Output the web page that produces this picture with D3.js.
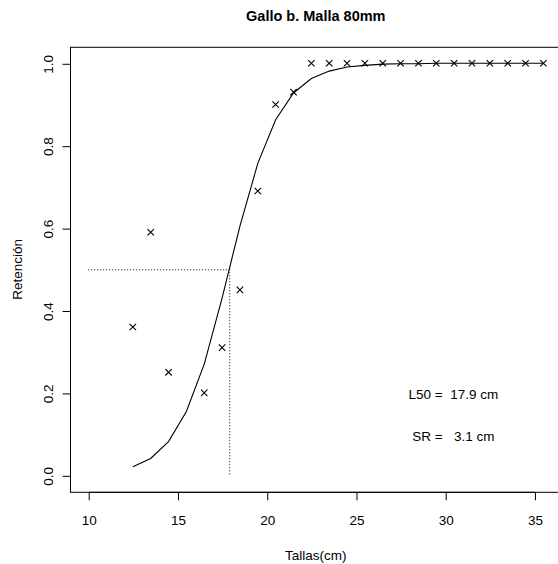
<!DOCTYPE html>
<html>
<head>
<meta charset="utf-8">
<script src="https://cdn.jsdelivr.net/npm/d3@7"></script>
<style>
  html, body { margin: 0; padding: 0; background: #fff; }
  svg { display: block; }
  text { font-family: "Liberation Sans", Arial, sans-serif; fill: #000; }
</style>
</head>
<body>
<div id="chart"></div>
<script>
// Observed retention by length class (cm); 15.5 has no observation
const tallas = [12.5, 13.5, 14.5, 16.5, 17.5, 18.5, 19.5, 20.5, 21.5, 22.5, 23.5, 24.5, 25.5, 26.5, 27.5, 28.5, 29.5, 30.5, 31.5, 32.5, 33.5, 34.5, 35.5];
const retencion = [0.36, 0.59, 0.25, 0.20, 0.31, 0.45, 0.69, 0.90, 0.93, 1, 1, 1, 1, 1, 1, 1, 1, 1, 1, 1, 1, 1, 1];

// Fitted selectivity curve
const curvaTallas = [12.5, 13.5, 14.5, 15.5, 16.5, 17.5, 18.5, 19.5, 20.5, 21.5, 22.5, 23.5, 24.5, 25.5, 26.5, 27.5, 28.5, 29.5, 30.5, 31.5, 32.5, 33.5, 34.5, 35.5];
const curvaRetencion = [0.021, 0.041, 0.082, 0.155, 0.27, 0.43, 0.605, 0.757, 0.863, 0.928, 0.963, 0.981, 0.991, 0.995, 0.998, 0.999, 0.999, 1, 1, 1, 1, 1, 1, 1];

const L50 = 17.9;
const SR = 3.1;
const xTicks = [10, 15, 20, 25, 30, 35];
const yTicks = [0.0, 0.2, 0.4, 0.6, 0.8, 1.0];

const W = 558, H = 564;
const mLeft = 70, mRight = 561.6, mTop = 46.8, mBottom = 491.8;

const svg = d3.select("#chart").append("svg")
  .attr("width", W).attr("height", H);

// R-style 4% padding around the data range
const xr = [10, 35.5], yr = [0, 1];
const xp = (xr[1] - xr[0]) * 0.04, yp = (yr[1] - yr[0]) * 0.04;
const x = d3.scaleLinear().domain([xr[0] - xp, xr[1] + xp]).range([mLeft, mRight]);
const y = d3.scaleLinear().domain([yr[0] - yp, yr[1] + yp]).range([mBottom, mTop]);

// Plot frame
svg.append("rect")
  .attr("x", mLeft + 0.5).attr("y", mTop + 0.5)
  .attr("width", mRight - mLeft).attr("height", mBottom - mTop)
  .attr("fill", "none").attr("stroke", "#000").attr("stroke-width", 1);

// Axes
const xAxis = d3.axisBottom(x).tickValues(xTicks).tickSize(8).tickPadding(15)
  .tickFormat(d3.format("d"));
const gx = svg.append("g").attr("transform", `translate(0.5,${mBottom + 0.5})`).call(xAxis);
gx.select(".domain").attr("d", `M${x(xTicks[0])},0H${x(xTicks[xTicks.length - 1])}`);
gx.selectAll("text").attr("font-size", 13.5).attr("font-family", "Liberation Sans, Arial, sans-serif");

const yAxis = d3.axisLeft(y).tickValues(yTicks).tickSize(8).tickFormat(d3.format(".1f"));
const gy = svg.append("g").attr("transform", `translate(${mLeft + 0.5},0.5)`).call(yAxis);
gy.select(".domain").attr("d", `M0,${y(yTicks[0])}V${y(yTicks[yTicks.length - 1])}`);
gy.selectAll(".tick text")
  .attr("x", null).attr("dy", null)
  .attr("font-size", 13.5).attr("font-family", "Liberation Sans, Arial, sans-serif")
  .attr("text-anchor", "middle")
  .attr("dominant-baseline", "central")
  .attr("transform", "translate(-22,0) rotate(-90)");

// Titles
svg.append("text").attr("x", (mLeft + mRight) / 2).attr("y", 21)
  .attr("text-anchor", "middle").attr("font-size", 14.5).attr("font-weight", "bold")
  .text("Gallo b. Malla 80mm");
svg.append("text").attr("x", (mLeft + mRight) / 2).attr("y", 560)
  .attr("text-anchor", "middle").attr("font-size", 13.5)
  .text("Tallas(cm)");
svg.append("text")
  .attr("transform", `translate(22,${(mTop + mBottom) / 2}) rotate(-90)`)
  .attr("text-anchor", "middle").attr("font-size", 13.5)
  .text("Retención");

// L50 reference lines
svg.append("line")
  .attr("x1", x(10)).attr("x2", x(L50)).attr("y1", y(0.5) + 0.5).attr("y2", y(0.5) + 0.5)
  .attr("stroke", "#000").attr("stroke-width", 1).attr("stroke-dasharray", "1,2");
svg.append("line")
  .attr("x1", x(L50) + 0.5).attr("x2", x(L50) + 0.5).attr("y1", y(0.5)).attr("y2", y(0))
  .attr("stroke", "#000").attr("stroke-width", 1).attr("stroke-dasharray", "1,2");

// Fitted curve
const line = d3.line().x((d, i) => x(curvaTallas[i])).y(d => y(d));
svg.append("path").datum(curvaRetencion)
  .attr("d", line).attr("fill", "none").attr("stroke", "#000").attr("stroke-width", 1.1);

// Observed points (crosses)
const s = 3.2;
svg.append("g").selectAll("path").data(retencion).join("path")
  .attr("transform", (d, i) => `translate(${x(tallas[i])},${y(d)})`)
  .attr("d", `M${-s},${-s}L${s},${s}M${-s},${s}L${s},${-s}`)
  .attr("stroke", "#000").attr("stroke-width", 1.1).attr("fill", "none");

// Annotations
svg.append("text").attr("x", x(30.46)).attr("y", y(0.195)).attr("dominant-baseline", "central")
  .attr("text-anchor", "middle").attr("font-size", 13.5)
  .style("white-space", "pre")
  .text(`L50 =  ${L50.toFixed(1)} cm`);
svg.append("text").attr("x", x(30.46)).attr("y", y(0.094)).attr("dominant-baseline", "central")
  .attr("text-anchor", "middle").attr("font-size", 13.5)
  .style("white-space", "pre")
  .text(`SR =   ${SR.toFixed(1)} cm`);
</script>
</body>
</html>
